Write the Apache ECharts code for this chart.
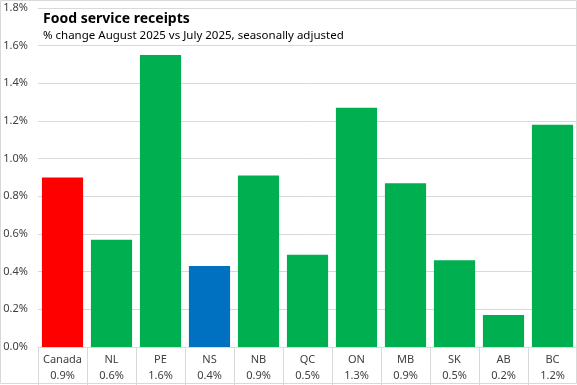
<!DOCTYPE html>
<html><head><meta charset="utf-8">
<script src="https://cdn.jsdelivr.net/npm/echarts@6/dist/echarts.min.js"></script>
<style>html,body{margin:0;padding:0;background:#fff}#c{width:577px;height:385px}</style>
</head><body><div id="c"></div>
<script>
const categories = ['Canada','NL','PE','NS','NB','QC','ON','MB','SK','AB','BC'];
const values = [0.90, 0.57, 1.55, 0.43, 0.91, 0.49, 1.27, 0.87, 0.46, 0.17, 1.18];
const valueLabels = ['0.9%','0.6%','1.6%','0.4%','0.9%','0.5%','1.3%','0.9%','0.5%','0.2%','1.2%'];
const barColors = ['#FF0000','#00B050','#00B050','#0070C0','#00B050','#00B050','#00B050','#00B050','#00B050','#00B050','#00B050'];
const yTicks = [0,0.2,0.4,0.6,0.8,1.0,1.2,1.4,1.6,1.8];
const titleText = 'Food service receipts';
const subtitleText = '% change August 2025 vs July 2025, seasonally adjusted';

const chart = echarts.init(document.getElementById('c'));
const font = '"Noto Sans", "Open Sans", sans-serif';
chart.setOption({
  animation: false,
  backgroundColor: '#fff',
  textStyle: {fontFamily: font},
  title: {
    text: titleText, subtext: subtitleText,
    left: 38, top: 7, itemGap: 4,
    textStyle: {fontFamily: font, fontSize: 14, fontWeight: 'bold', color: '#000'},
    subtextStyle: {fontFamily: font, fontSize: 11.5, color: '#000'}
  },
  grid: {left: 38, right: 0, top: 8, bottom: 38, containLabel: false},
  xAxis: {
    type: 'category', data: categories,
    axisLine: {lineStyle: {color: '#d9d9d9'}},
    axisTick: {show: true, length: 38, alignWithLabel: false, lineStyle: {color: '#d9d9d9'}},
    axisLabel: {
      interval: 0, margin: 5, color: '#404040', fontSize: 11, lineHeight: 16,
      formatter: (v, i) => v + '\n' + valueLabels[i]
    }
  },
  yAxis: {
    type: 'value', min: yTicks[0], max: yTicks[yTicks.length-1], interval: 0.2,
    axisLine: {show: false}, axisTick: {show: false},
    splitLine: {lineStyle: {color: '#d9d9d9'}},
    axisLabel: {color: '#404040', fontSize: 11, margin: 10,
      formatter: v => v.toFixed(1) + '%'}
  },
  series: [{
    type: 'bar', barCategoryGap: '16%',
    data: values.map((v, i) => ({value: v, itemStyle: {color: barColors[i]}}))
  }],
  graphic: [{
    type: 'rect', shape: {x: 0.5, y: 0.5, width: 576, height: 383},
    style: {fill: 'none', stroke: '#d9d9d9', lineWidth: 1}, silent: true
  }]
});
</script></body></html>
